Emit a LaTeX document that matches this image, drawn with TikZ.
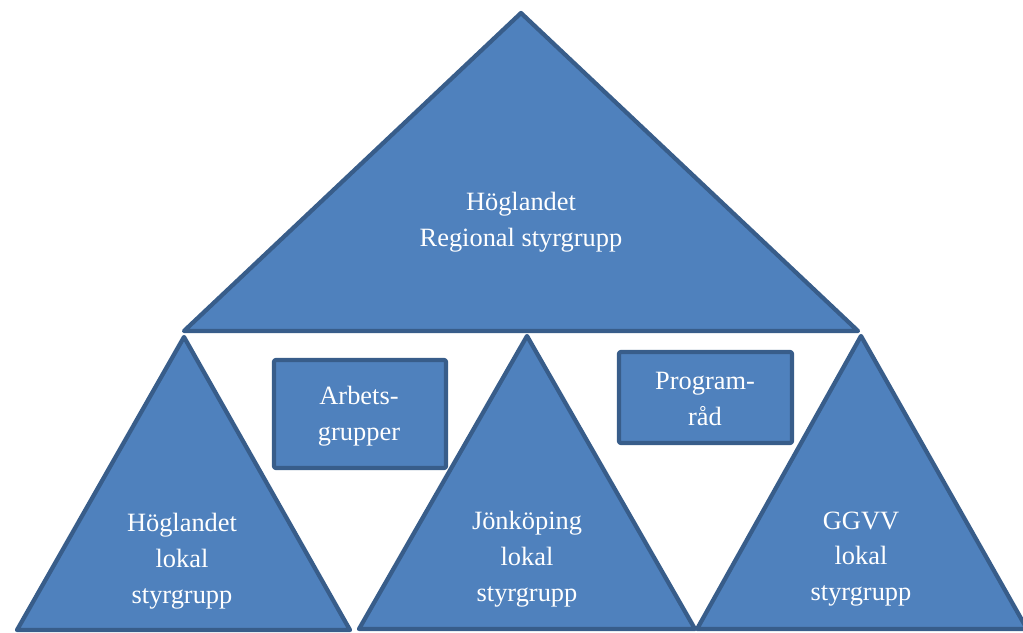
\documentclass[tikz,border=0pt]{standalone}
\usepackage{fontspec}
\setmainfont{Liberation Serif}
\definecolor{tfill}{HTML}{4F81BD}
\definecolor{tline}{HTML}{385D8A}
\begin{document}
\begin{tikzpicture}[x=0.75pt,y=-0.75pt,
  blueshape/.style={fill=tfill,draw=tline,line width=3.2pt,line join=round},
  lbl/.style={text=white,font=\fontsize{19.8}{26.8}\selectfont,align=center,inner sep=0pt}]
\useasboundingbox (0,0) rectangle (1023,632);
\begin{scope}
\clip (0,0) rectangle (1023,632);
% big triangle
\draw[blueshape] (521,13) -- (858,331) -- (184,331) -- cycle;
% small triangles
\draw[blueshape] (184,337) -- (350,630) -- (17,630) -- cycle;
\draw[blueshape] (527,336) -- (695,629) -- (359,629) -- cycle;
\draw[blueshape] (861,336) -- (1027,629) -- (697,629) -- cycle;
% boxes
\draw[blueshape,rounded corners=1.5pt] (274,360) rectangle (446,468);
\draw[blueshape,rounded corners=1.5pt] (619,352) rectangle (792,443);
\end{scope}
\node[lbl] (top) at (521,222) {Höglandet\\Regional styrgrupp};
\node[lbl] (hl) at (182,561) {Höglandet\\lokal\\styrgrupp};
\node[lbl] (jk) at (527,559) {Jönköping\\lokal\\styrgrupp};
\node[lbl] (gg) at (861,559) {GGVV\\lokal\\styrgrupp};
\node[lbl] (ag) at (359,416) {Arbets-\\grupper};
\node[lbl] (pr) at (705,399) {Program-\\råd};
\end{tikzpicture}
\end{document}
